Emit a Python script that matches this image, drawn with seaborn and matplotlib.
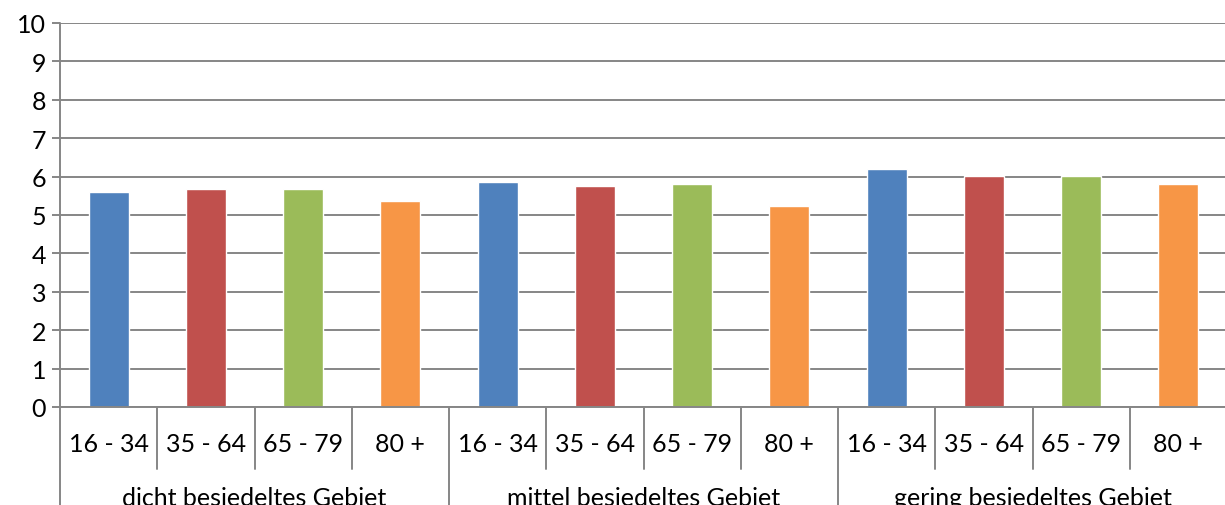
import matplotlib
matplotlib.use("Agg")
import matplotlib.pyplot as plt
import matplotlib.transforms as mtransforms
import seaborn as sns
import pandas as pd

groups = ["dicht besiedeltes Gebiet", "mittel besiedeltes Gebiet", "gering besiedeltes Gebiet"]
ages = ["16 - 34", "35 - 64", "65 - 79", "80 +"]
values_dicht = [5.59, 5.67, 5.67, 5.36]
values_mittel = [5.86, 5.75, 5.80, 5.23]
values_gering = [6.21, 6.02, 6.02, 5.82]
colors = ["#4F81BD", "#C0504D", "#9BBB59", "#F79646"]

rows = []
for g, vals in zip(groups, [values_dicht, values_mittel, values_gering]):
    for a, v in zip(ages, vals):
        rows.append({"slot": f"{g}|{a}", "group": g, "age": a, "value": v})
df = pd.DataFrame(rows)

sns.set_theme(style="white")
plt.rcParams['font.family'] = ['Lato', 'DejaVu Sans']
GRAY = "#868686"
FS = 18

fig = plt.figure(figsize=(12.25, 5.06), dpi=100)
ax = fig.add_axes([60/1225, 98/506, 1167/1225, (408-24)/506])

sns.barplot(data=df, x="slot", y="value", hue="age", palette=colors,
            dodge=False, width=0.41, ax=ax, legend=False, saturation=1)

ax.set_ylim(0, 10)
ax.set_xlim(-0.5, len(df) - 0.5)
ax.set_yticks(range(0, 11))
ax.set_yticklabels([str(i) for i in range(0, 11)], fontsize=FS, color="black")
ax.yaxis.grid(True, color=GRAY, linewidth=1.4)
ax.set_axisbelow(True)
ax.tick_params(axis="y", which="both", left=True, length=6, width=1.4, color=GRAY, pad=4)
ax.set_xticks([])
ax.set_xlabel("")
ax.set_ylabel("")
for s in ["top", "right", "left"]:
    ax.spines[s].set_visible(False)
ax.spines["bottom"].set_color(GRAY)
ax.spines["bottom"].set_linewidth(1.4)

trans = mtransforms.blended_transform_factory(ax.transData, ax.transAxes)
ax_h = (408 - 24)
def ay(pixels_below):
    return -pixels_below / ax_h

for i in range(len(df)):
    ax.text(i, ay(37), df["age"].iloc[i], transform=trans, ha="center", va="center",
            fontsize=FS, color="black", clip_on=False)
    if i % 4 != 0:
        ax.plot([i - 0.5, i - 0.5], [0, ay(62)], transform=trans, color=GRAY,
                linewidth=1.4, clip_on=False)
for k in range(len(groups) + 1):
    xk = k * 4 - 0.5
    top = 1 if k == 0 else 0
    ax.plot([xk, xk], [top, ay(110)], transform=trans, color=GRAY, linewidth=1.4, clip_on=False)
for k, g in enumerate(groups):
    ax.text(k * 4 + 1.5, ay(91), g, transform=trans, ha="center", va="center",
            fontsize=FS, color="black", clip_on=False)

fig.savefig("out.png", dpi=100)
